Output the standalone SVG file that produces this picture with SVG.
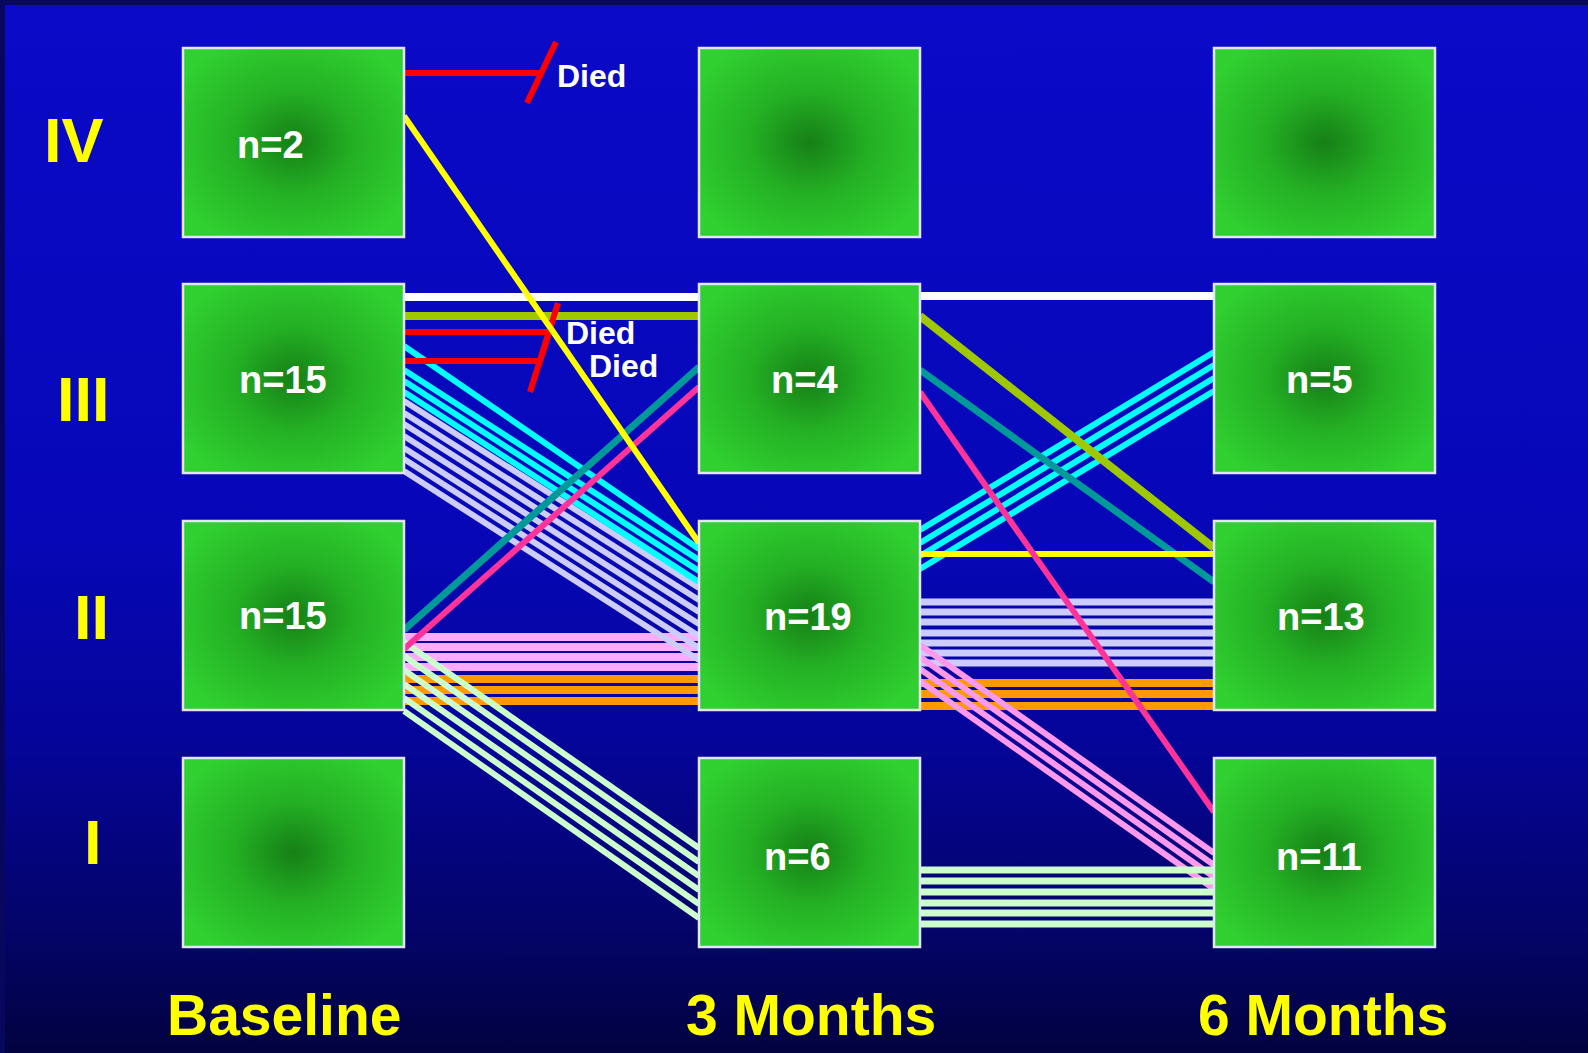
<svg xmlns="http://www.w3.org/2000/svg" width="1588" height="1053" viewBox="0 0 1588 1053">
<defs>
<linearGradient id="bg" x1="0" y1="0" x2="0" y2="1">
<stop offset="0" stop-color="#0a0ac8"/>
<stop offset="0.5" stop-color="#0707b8"/>
<stop offset="0.7" stop-color="#05059a"/>
<stop offset="0.88" stop-color="#04046a"/>
<stop offset="1" stop-color="#020240"/>
</linearGradient>
<radialGradient id="gb" cx="0.5" cy="0.5" r="0.6">
<stop offset="0" stop-color="#167f16"/>
<stop offset="0.45" stop-color="#24b024"/>
<stop offset="1" stop-color="#30d030"/>
</radialGradient>
<style>
.box{fill:url(#gb);stroke:#e4e4ff;stroke-width:2.5}
.n{font-family:"Liberation Sans",Arial,sans-serif;font-weight:bold;font-size:38px;fill:#ffffff}
.lab{font-family:"Liberation Sans",Arial,sans-serif;font-weight:bold;fill:#ffff00}
.died{font-family:"Liberation Sans",Arial,sans-serif;font-weight:bold;font-size:32px;fill:#ffffff}
line{fill:none}
.pk{stroke:#ffaaff;stroke-width:8}
.pk2{stroke:#ff99ee;stroke-width:6}
.or{stroke:#ff9900;stroke-width:8}
.lv{stroke:#ccccff;stroke-width:6}
.lv2{stroke:#ccccff;stroke-width:7}
.cy{stroke:#00ffff;stroke-width:6}
.lg{stroke:#ccffcc;stroke-width:6}
.lg2{stroke:#ccffcc;stroke-width:7}
.tl{stroke:#009999;stroke-width:7}
.mg{stroke:#ff3399;stroke-width:6}
.ye{stroke:#ffff00;stroke-width:6}
.wh{stroke:#ffffff;stroke-width:8}
.ol{stroke:#a0c800;stroke-width:8}
.rd{stroke:#ff0000;stroke-width:6}
</style>
</defs>
<rect x="0" y="0" width="1588" height="1053" fill="#07075e"/>
<rect x="5" y="5" width="1583" height="1048" fill="url(#bg)"/>

<g id="connectors">
<g id="seg1">
<line class="pk" x1="404" y1="637" x2="699" y2="637"/>
<line class="pk" x1="404" y1="647" x2="699" y2="647"/>
<line class="pk" x1="404" y1="657" x2="699" y2="657"/>
<line class="pk" x1="404" y1="667" x2="699" y2="667"/>
<line class="or" x1="404" y1="679" x2="699" y2="679"/>
<line class="or" x1="404" y1="690" x2="699" y2="690"/>
<line class="or" x1="404" y1="701" x2="699" y2="701"/>
<line class="lv" x1="404" y1="401" x2="699" y2="588"/>
<line class="lv" x1="404" y1="413" x2="699" y2="600"/>
<line class="lv" x1="404" y1="424" x2="699" y2="612"/>
<line class="lv" x1="404" y1="436" x2="699" y2="624"/>
<line class="lv" x1="404" y1="448" x2="699" y2="636"/>
<line class="lv" x1="404" y1="459" x2="699" y2="648"/>
<line class="lv" x1="404" y1="471" x2="699" y2="660"/>
<line class="cy" x1="404" y1="346" x2="699" y2="549"/>
<line class="cy" x1="404" y1="370" x2="699" y2="560"/>
<line class="cy" x1="404" y1="381" x2="699" y2="571"/>
<line class="cy" x1="404" y1="392" x2="699" y2="582"/>
<line class="lg" x1="404" y1="642" x2="699" y2="848"/>
<line class="lg" x1="404" y1="656" x2="699" y2="862"/>
<line class="lg" x1="404" y1="670" x2="699" y2="876"/>
<line class="lg" x1="404" y1="684" x2="699" y2="890"/>
<line class="lg" x1="404" y1="698" x2="699" y2="904"/>
<line class="lg" x1="404" y1="711" x2="699" y2="918"/>
<line class="tl" x1="404" y1="630" x2="699" y2="367"/>
<line class="mg" x1="404" y1="649" x2="699" y2="387"/>
<line class="wh" x1="404" y1="297" x2="699" y2="297"/>
<line class="ol" x1="404" y1="316" x2="699" y2="316"/>
<line class="rd" x1="404" y1="73" x2="542" y2="73"/>
<line class="rd" x1="556" y1="42" x2="527" y2="103"/>
<line class="rd" x1="404" y1="332" x2="549" y2="332"/>
<line class="rd" x1="558" y1="303" x2="540" y2="361"/>
<line class="rd" x1="404" y1="361" x2="540" y2="361"/>
<line class="rd" x1="549" y1="332" x2="530" y2="392"/>
<line class="ye" x1="404" y1="116" x2="699" y2="543"/>
</g>
<g id="seg2">
<line class="lv2" x1="920" y1="602" x2="1214" y2="602"/>
<line class="lv2" x1="920" y1="612" x2="1214" y2="612"/>
<line class="lv2" x1="920" y1="622" x2="1214" y2="622"/>
<line class="lv2" x1="920" y1="633" x2="1214" y2="633"/>
<line class="lv2" x1="920" y1="643" x2="1214" y2="643"/>
<line class="lv2" x1="920" y1="653" x2="1214" y2="653"/>
<line class="lv2" x1="920" y1="663" x2="1214" y2="663"/>
<line class="or" x1="920" y1="683" x2="1214" y2="683"/>
<line class="or" x1="920" y1="694" x2="1214" y2="694"/>
<line class="or" x1="920" y1="706" x2="1214" y2="706"/>
<line class="pk2" x1="920" y1="645" x2="1214" y2="853"/>
<line class="pk2" x1="920" y1="657" x2="1214" y2="865"/>
<line class="pk2" x1="920" y1="669" x2="1214" y2="877"/>
<line class="pk2" x1="920" y1="681" x2="1214" y2="889"/>
<line class="lg2" x1="920" y1="870" x2="1214" y2="870"/>
<line class="lg2" x1="920" y1="881" x2="1214" y2="881"/>
<line class="lg2" x1="920" y1="892" x2="1214" y2="892"/>
<line class="lg2" x1="920" y1="903" x2="1214" y2="903"/>
<line class="lg2" x1="920" y1="913" x2="1214" y2="913"/>
<line class="lg2" x1="920" y1="924" x2="1214" y2="924"/>
<line class="cy" x1="920" y1="530" x2="1214" y2="352"/>
<line class="cy" x1="920" y1="543" x2="1214" y2="365"/>
<line class="cy" x1="920" y1="556" x2="1214" y2="378"/>
<line class="cy" x1="920" y1="569" x2="1214" y2="391"/>
<line class="tl" x1="920" y1="370" x2="1214" y2="582"/>
<line class="ol" x1="920" y1="316" x2="1214" y2="548"/>
<line class="ye" x1="920" y1="554" x2="1214" y2="554"/>
<line class="mg" x1="920" y1="392" x2="1214" y2="812"/>
<line class="wh" x1="920" y1="296" x2="1214" y2="296"/>
</g>
</g>

<g id="box-baseline-IV"><rect class="box" x="183" y="48" width="221" height="189"/><text class="n" x="237" y="158">n=2</text></g>
<g id="box-baseline-III"><rect class="box" x="183" y="284" width="221" height="189"/><text class="n" x="239" y="393">n=15</text></g>
<g id="box-baseline-II"><rect class="box" x="183" y="521" width="221" height="189"/><text class="n" x="239" y="629">n=15</text></g>
<g id="box-baseline-I"><rect class="box" x="183" y="758" width="221" height="189"/></g>

<g id="box-3m-IV"><rect class="box" x="699" y="48" width="221" height="189"/></g>
<g id="box-3m-III"><rect class="box" x="699" y="284" width="221" height="189"/><text class="n" x="771" y="393">n=4</text></g>
<g id="box-3m-II"><rect class="box" x="699" y="521" width="221" height="189"/><text class="n" x="764" y="630">n=19</text></g>
<g id="box-3m-I"><rect class="box" x="699" y="758" width="221" height="189"/><text class="n" x="764" y="870">n=6</text></g>

<g id="box-6m-IV"><rect class="box" x="1214" y="48" width="221" height="189"/></g>
<g id="box-6m-III"><rect class="box" x="1214" y="284" width="221" height="189"/><text class="n" x="1286" y="393">n=5</text></g>
<g id="box-6m-II"><rect class="box" x="1214" y="521" width="221" height="189"/><text class="n" x="1277" y="630">n=13</text></g>
<g id="box-6m-I"><rect class="box" x="1214" y="758" width="221" height="189"/><text class="n" x="1276" y="870">n=11</text></g>

<g id="died-labels">
<text class="died" x="557" y="87">Died</text>
<text class="died" x="566" y="344">Died</text>
<text class="died" x="589" y="377">Died</text>
</g>

<g id="row-labels">
<text class="lab" font-size="63" x="44" y="162">IV</text>
<text class="lab" font-size="63" x="57" y="421">III</text>
<text class="lab" font-size="63" x="74" y="639">II</text>
<text class="lab" font-size="63" x="84" y="864">I</text>
</g>
<g id="column-labels">
<text class="lab" font-size="57" x="167" y="1035">Baseline</text>
<text class="lab" font-size="57" x="686" y="1035">3 Months</text>
<text class="lab" font-size="57" x="1198" y="1035">6 Months</text>
</g>
</svg>
